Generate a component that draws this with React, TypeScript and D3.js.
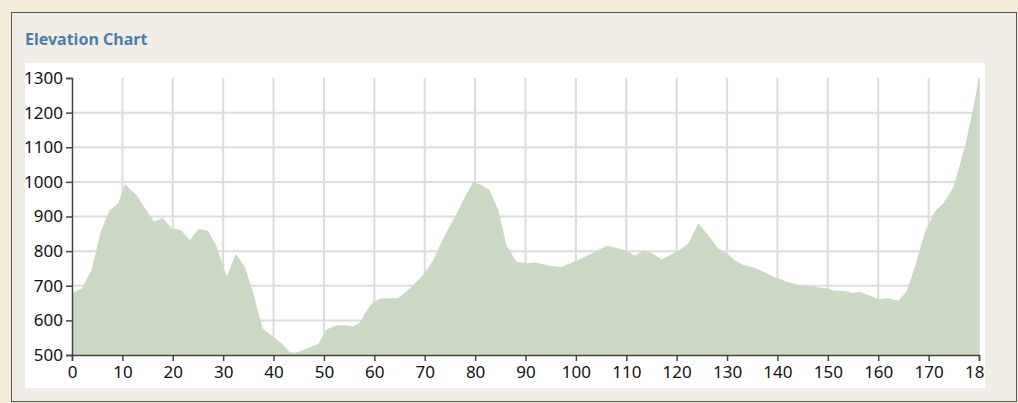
import React, { useEffect, useRef } from 'react';
import * as d3 from 'd3';

// distance along the route (km) and elevation (m), read from the profile
const distances = [
  0, 2, 4, 5.6, 7.4, 9.2, 10.5, 12.8, 14.5, 16.3, 18, 19.8, 21.6, 23.4, 25.1, 27, 28.7, 30.7,
  32.5, 34.3, 36, 37.8, 39.9, 41.6, 43.3, 44.6, 46.6, 48.9, 50.5, 52.5, 54.5, 55.8, 57.1, 58.1,
  59.8, 61.4, 64.7, 67.1, 69.7, 71.7, 73.7, 76, 78, 79.6, 81.3, 82.9, 84.6, 86.2, 88.2, 90.2,
  91.9, 94.8, 97.2, 100.1, 103.4, 106.2, 108.7, 110.4, 111.7, 113.4, 114.7, 117, 118.7, 120.6,
  122.3, 124.3, 126.3, 128.2, 129.9, 131.5, 133.2, 135.2, 137.2, 139.2, 141.8, 144.1, 147.1,
  149.7, 151.1, 153.4, 155, 156.3, 158, 160, 162, 164, 165.6, 167.3, 169.2, 171.2, 172.9,
  174.9, 177.2, 178.8, 180,
];
const elevations = [
  678, 693, 750, 851, 917, 938, 993, 962, 924, 885, 896, 866, 861, 832, 864, 859, 813, 726,
  792, 755, 678, 577, 553, 534, 507, 507, 519, 532, 574, 586, 586, 582, 593, 620,
  654, 664, 664, 693, 731, 774, 837, 899, 957, 1000, 991, 976, 919, 818, 769, 765,
  767, 758, 755, 772, 795, 816, 806, 800, 787, 801, 797, 776, 789, 803,
  822, 880, 846, 808, 794, 774, 760, 753, 741, 726, 712, 702, 697,
  693, 686, 685, 678, 683, 673, 662, 664, 657, 683, 755, 851, 914, 938,
  983, 1101, 1208, 1300,
];
const xTicks = [0, 10, 20, 30, 40, 50, 60, 70, 80, 90, 100, 110, 120, 130, 140, 150, 160, 170, 180];
const yTicks = [500, 600, 700, 800, 900, 1000, 1100, 1200, 1300];

const W = 1018;
const H = 403;
const font = '"Noto Sans", "Open Sans", sans-serif';

const App = () => {
  const svgRef = useRef<SVGSVGElement>(null);

  useEffect(() => {
    const svg = d3.select(svgRef.current);
    svg.selectAll('*').remove();

    // page + panel
    svg.append('rect').attr('width', W).attr('height', H).style('fill', '#f4ebd8');
    svg.append('rect')
      .attr('x', 11.5).attr('y', 12.5).attr('width', 1005).attr('height', 389)
      .style('fill', '#f0ede6').style('stroke', '#555').style('stroke-width', 1);

    svg.append('text')
      .attr('x', 25).attr('y', 44.5)
      .style('font-family', font).style('font-size', '16px').style('font-weight', 700)
      .style('fill', '#4d7cab')
      .text('Elevation Chart');

    // white chart box
    const box = { x: 25, y: 63, w: 960, h: 325 };
    const defs = svg.append('defs');
    defs.append('clipPath').attr('id', 'box-clip')
      .append('rect').attr('x', box.x).attr('y', box.y).attr('width', box.w).attr('height', box.h);
    svg.append('rect').attr('x', box.x).attr('y', box.y).attr('width', box.w).attr('height', box.h)
      .style('fill', '#fff');

    const g = svg.append('g').attr('clip-path', 'url(#box-clip)');

    const x = d3.scaleLinear().domain([0, 180]).range([72, 979]);
    const y = d3.scaleLinear().domain([500, 1300]).range([355, 78]);

    // grid
    g.append('g').selectAll('line').data(xTicks.filter(d => d > 0)).enter().append('line')
      .attr('x1', d => x(d)).attr('x2', d => x(d)).attr('y1', y(1300)).attr('y2', y(500))
      .style('stroke', '#dcdcdc').style('stroke-width', 2);
    g.append('g').selectAll('line').data(yTicks.filter(d => d > 500 && d < 1300)).enter().append('line')
      .attr('x1', x(0)).attr('x2', x(180)).attr('y1', d => y(d)).attr('y2', d => y(d))
      .style('stroke', '#dcdcdc').style('stroke-width', 2);

    // elevation area
    const pts = distances.map((d, i) => [d, elevations[i]] as [number, number]);
    const area = d3.area<[number, number]>()
      .x(d => x(d[0]))
      .y0(y(500))
      .y1(d => y(d[1]));
    g.append('path').datum(pts).attr('d', area).style('fill', '#cbd8c4');

    // axes
    const xAxis = g.append('g').attr('transform', `translate(0,${y(500)})`)
      .call(d3.axisBottom(x).tickValues(xTicks).tickSize(6).tickPadding(5).tickFormat(d3.format('d')));
    const yAxis = g.append('g').attr('transform', `translate(${x(0)},0)`)
      .call(d3.axisLeft(y).tickValues(yTicks).tickSize(6).tickPadding(3).tickFormat(d3.format('d')));
    [xAxis, yAxis].forEach(a => {
      a.select('.domain').style('stroke', '#444').style('stroke-width', 1.5);
      a.selectAll('.tick line').style('stroke', '#444').style('stroke-width', 1.5);
      a.selectAll('.tick text')
        .style('font-family', font).style('font-size', '17px').style('fill', '#111');
    });
  }, []);

  return (
    <svg
      ref={svgRef}
      width={W}
      height={H}
      style={{ position: 'absolute', left: 0, top: 0, display: 'block' }}
    />
  );
};

export default App;
